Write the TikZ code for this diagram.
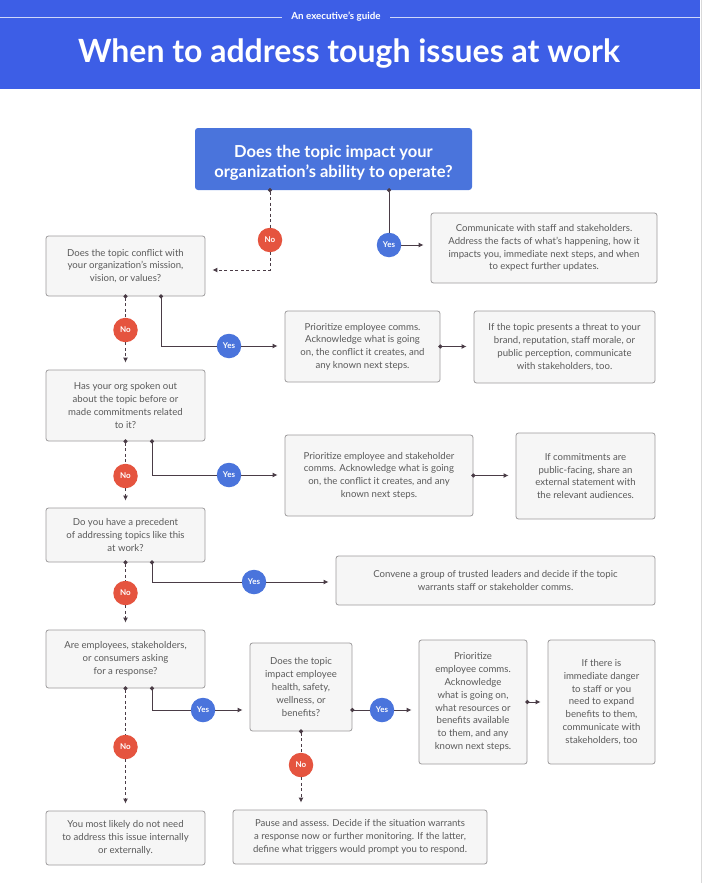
\documentclass[tikz,border=0pt]{standalone}
\usepackage{fontspec}
\setmainfont{Lato}
\usetikzlibrary{arrows.meta}
\definecolor{bannerblue}{HTML}{3D5EE6}
\definecolor{qblue}{HTML}{4A74DC}
\definecolor{nored}{HTML}{E5543F}
\definecolor{boxfill}{HTML}{F6F6F6}
\definecolor{boxline}{HTML}{9C9A9B}
\definecolor{txt}{HTML}{5A5A5A}
\definecolor{lnk}{HTML}{4A3C46}

\begin{document}
\begin{tikzpicture}[x=1pt,y=-1pt,
    card/.style={draw=boxline, fill=boxfill, rounded corners=2.5pt, text=txt,
      font=\fontsize{9.6}{12.8}\selectfont, align=center, inner sep=0pt, line width=0.8pt},
    yesdot/.style={circle, fill=qblue, text=white, font=\fontsize{8}{9}\bfseries\selectfont,
      minimum size=24.5pt, inner sep=0pt},
    nodot/.style={yesdot, fill=nored},
    yesline/.style={draw=lnk, line width=1pt},
    noline/.style={yesline, dash pattern=on 3pt off 2.5pt},
    dotstart/.style={arrows={Circle[length=4pt]-}, shorten <=-2pt},
    arrowend/.style={arrows={-Latex[length=5pt,width=5pt]}, shorten >=7pt},
    dotarrow/.style={arrows={Circle[length=4pt]-Latex[length=5pt,width=5pt]},
      shorten <=-2pt, shorten >=7pt}]
  \useasboundingbox (0,0) rectangle (705,883);
  \fill[bannerblue] (0,0) rectangle (700,89);
  \draw[gray!30] (701,0) -- (701,883);
  \node[text=white, font=\fontsize{9.8}{11}\bfseries\selectfont] (kicker) at (336,17) {An executive's guide};
  \draw[white!75!bannerblue, line width=0.8pt] (0,17) -- ([xshift=-6pt]kicker.west);
  \draw[white!75!bannerblue, line width=0.8pt] ([xshift=6pt]kicker.east) -- (700,17);
  \node[text=white, font=\fontsize{32}{36}\bfseries\selectfont] (title) at (349,54) {When to address tough issues at work};

  \node[fill=qblue, rounded corners=3pt, inner sep=0pt,
    minimum width=277pt, minimum height=62pt] (top) at (333.5,159) {};
  \node[text=white, align=center, inner sep=0pt, font=\fontsize{16.5}{20}\bfseries\selectfont]
    (toptext) at (333.5,163) {Does the topic impact your\\organization's ability to operate?};

  \node[card, minimum width=226pt, minimum height=70pt] (comm) at (544,248)
    {Communicate with staff and stakeholders.\\Address the facts of what's happening, how it\\impacts you, immediate next steps, and when\\to expect further updates.};
  \node[card, minimum width=159pt, minimum height=60pt] (q1) at (125.5,266)
    {Does the topic conflict with\\your organization's mission,\\vision, or values?};
  \node[card, minimum width=155pt, minimum height=71pt] (p1) at (362.5,346.5)
    {Prioritize employee comms.\\Acknowledge what is going\\on, the conflict it creates, and\\any known next steps.};
  \node[card, minimum width=181pt, minimum height=72pt] (t1) at (564.5,347)
    {If the topic presents a threat to your\\brand, reputation, staff morale, or\\public perception, communicate\\with stakeholders, too.};
  \node[card, minimum width=159pt, minimum height=71pt] (q2) at (125.5,405.5)
    {Has your org spoken out\\about the topic before or\\made commitments related\\to it?};
  \node[card, minimum width=188pt, minimum height=81pt] (p2) at (379,475.5)
    {Prioritize employee and stakeholder\\comms. Acknowledge what is going\\on, the conflict it creates, and any\\known next steps.};
  \node[card, minimum width=139pt, minimum height=86pt] (t2) at (585.5,476)
    {If commitments are\\public-facing, share an\\external statement with\\the relevant audiences.};
  \node[card, minimum width=159pt, minimum height=54pt] (q3) at (125.5,535)
    {Do you have a precedent\\of addressing topics like this\\at work?};
  \node[card, minimum width=319pt, minimum height=49pt] (conv) at (495.5,580.5)
    {Convene a group of trusted leaders and decide if the topic\\warrants staff or stakeholder comms.};
  \node[card, minimum width=159pt, minimum height=58pt] (q4) at (125.5,659)
    {Are employees, stakeholders,\\or consumers asking\\for a response?};
  \node[card, minimum width=102pt, minimum height=88pt] (q5) at (301,687)
    {Does the topic\\impact employee\\health, safety,\\wellness, or\\benefits?};
  \node[card, minimum width=108pt, minimum height=124pt] (p3) at (473,702)
    {Prioritize\\employee comms.\\Acknowledge\\what is going on,\\what resources or\\benefits available\\to them, and any\\known next steps.};
  \node[card, minimum width=107pt, minimum height=124pt] (t3) at (601.5,702)
    {If there is\\immediate danger\\to staff or you\\need to expand\\benefits to them,\\communicate with\\stakeholders, too};
  \node[card, minimum width=159pt, minimum height=54pt] (e1) at (125.5,838)
    {You most likely do not need\\to address this issue internally\\or externally.};
  \node[card, minimum width=254pt, minimum height=54pt] (e2) at (360,837)
    {Pause and assess. Decide if the situation warrants\\a response now or further monitoring. If the latter,\\define what triggers would prompt you to respond.};

  \node[nodot] (n1) at (270,240) {No};
  \node[yesdot] (y1) at (389,245) {Yes};
  \node[nodot] (n2) at (125.5,330) {No};
  \node[yesdot] (y2) at (229,346) {Yes};
  \node[nodot] (n3) at (125.5,476) {No};
  \node[yesdot] (y3) at (229,475) {Yes};
  \node[nodot] (n4) at (125.5,593) {No};
  \node[yesdot] (y4) at (254,582) {Yes};
  \node[nodot] (n5) at (125.5,747) {No};
  \node[yesdot] (y5) at (203,710) {Yes};
  \node[yesdot] (y6) at (382,710) {Yes};
  \node[nodot] (n6) at (301,765) {No};

  \draw[noline, dotstart] ([xshift=-63.5pt]top.south) -- (n1);
  \draw[noline, arrowend] (n1) |- ([yshift=-4pt]q1.east);
  \draw[yesline, dotstart] ([xshift=55.5pt]top.south) -- (y1);
  \draw[yesline, arrowend] (y1) -- (y1 -| comm.west);

  \draw[noline, dotstart] (q1.south) -- (n2);
  \draw[noline, arrowend] (n2) -- (q2);
  \draw[yesline, dotstart] ([xshift=35.5pt]q1.south) |- (y2);
  \draw[yesline, arrowend] (y2) -- (y2 -| p1.west);
  \draw[yesline, dotarrow] (p1.east) -- (p1.east -| t1.west);

  \draw[noline, dotstart] (q2.south) -- (n3);
  \draw[noline, arrowend] (n3) -- (q3);
  \draw[yesline, dotstart] ([xshift=26.5pt]q2.south) |- (y3);
  \draw[yesline, arrowend] (y3) -- (y3 -| p2.west);
  \draw[yesline, dotarrow] (p2.east) -- (p2.east -| t2.west);

  \draw[noline, dotstart] (q3.south) -- (n4);
  \draw[noline, arrowend] (n4) -- (q4);
  \draw[yesline, dotstart] ([xshift=26.5pt]q3.south) |- (y4);
  \draw[yesline, arrowend] (y4) -- (y4 -| conv.west);

  \draw[noline, dotstart] (q4.south) -- (n5);
  \draw[noline, arrowend] (n5) -- (e1);
  \draw[yesline, dotstart] ([xshift=26.5pt]q4.south) |- (y5);
  \draw[yesline, arrowend] (y5) -- (y5 -| q5.west);

  \draw[yesline, dotstart] (q5.east |- y6) -- (y6);
  \draw[yesline, arrowend] (y6) -- (y6 -| p3.west);
  \draw[yesline, dotarrow] (p3.east) -- (t3.west);
  \draw[noline, dotstart] (q5.south) -- (n6);
  \draw[noline, arrowend] (n6) -- (n6 |- e2.north);
\end{tikzpicture}
\end{document}
